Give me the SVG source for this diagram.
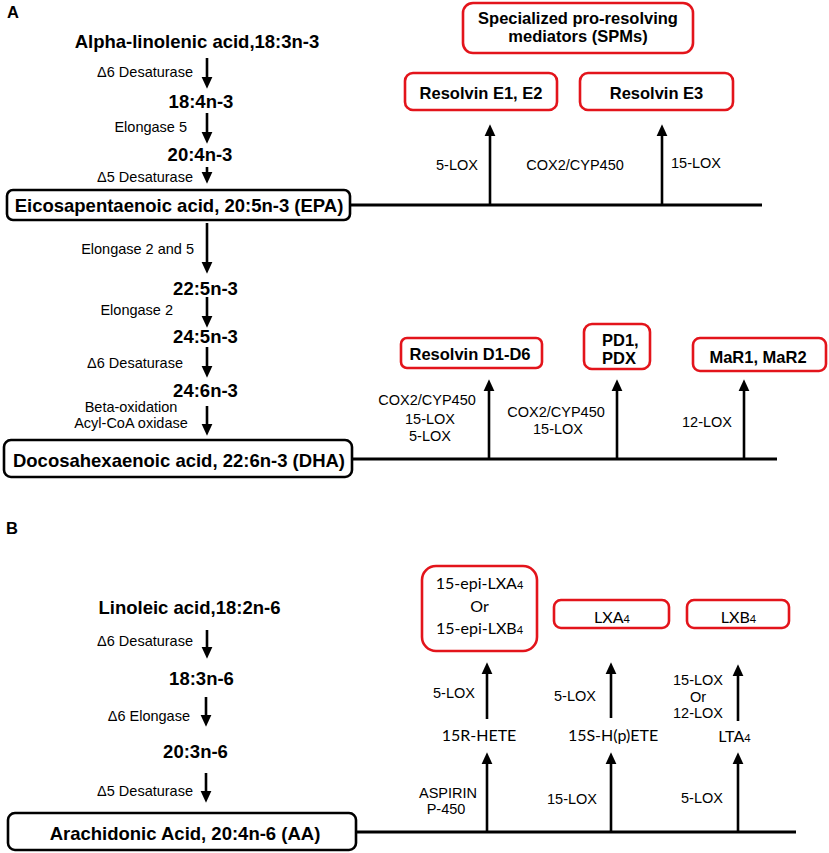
<svg xmlns="http://www.w3.org/2000/svg" width="829" height="853" viewBox="0 0 829 853">
<defs>
<style>
.big{font-family:"Liberation Sans",Arial,sans-serif;font-weight:bold;font-size:18.5px;fill:#000}
.hd{font-family:"Liberation Sans",Arial,sans-serif;font-weight:bold;font-size:16.5px;fill:#000}
.sm{font-family:"Liberation Sans",Arial,sans-serif;font-size:14.5px;fill:#000}
.lt{font-family:Lato,"Open Sans",sans-serif;font-size:16px;fill:#000}
.sub{font-size:11px}
.bbox{fill:#fff;stroke:#000;stroke-width:2.6}
.rbox{fill:#fff;stroke:#e3141b;stroke-width:2.6}
.ln{stroke:#000;stroke-width:3;fill:none}
.ar{stroke:#000;stroke-width:2.6;fill:none;marker-end:url(#ah)}
.m{text-anchor:middle}
.e{text-anchor:end}
</style>
<marker id="ah" markerUnits="userSpaceOnUse" markerWidth="12" markerHeight="12" viewBox="0 0 11 10" refX="2" refY="5" orient="auto">
<path d="M0,0 L11,5 L0,10 z" fill="#000"/>
</marker>
</defs>
<rect width="829" height="853" fill="#fff"/>

<text class="hd" x="7" y="18">A</text>
<text class="hd" x="6" y="534">B</text>

<g id="connectors">
<!-- panel A left chain -->
<line class="ar" x1="207" y1="58" x2="207" y2="79"/>
<line class="ar" x1="207" y1="113" x2="207" y2="134"/>
<line class="ar" x1="207" y1="167" x2="207" y2="174"/>
<line class="ar" x1="207" y1="223" x2="207" y2="264"/>
<line class="ar" x1="207" y1="297" x2="207" y2="318"/>
<line class="ar" x1="207" y1="347" x2="207" y2="368"/>
<line class="ar" x1="207" y1="406" x2="207" y2="426"/>
<!-- EPA line -->
<line class="ln" x1="350" y1="205" x2="762" y2="205"/>
<line class="ar" x1="490" y1="205" x2="490" y2="134"/>
<line class="ar" x1="662" y1="205" x2="662" y2="134"/>
<!-- DHA line -->
<line class="ln" x1="352" y1="459" x2="777" y2="459"/>
<line class="ar" x1="489" y1="459" x2="489" y2="389"/>
<line class="ar" x1="617" y1="459" x2="617" y2="389"/>
<line class="ar" x1="744" y1="459" x2="744" y2="389"/>
<!-- panel B left chain -->
<line class="ar" x1="207" y1="630" x2="207" y2="649"/>
<line class="ar" x1="206" y1="697" x2="206" y2="717"/>
<line class="ar" x1="206" y1="773" x2="206" y2="793"/>
<!-- AA line -->
<line class="ln" x1="356" y1="832" x2="796" y2="832"/>
<line class="ar" x1="487" y1="832" x2="487" y2="762"/>
<line class="ar" x1="611" y1="832" x2="611" y2="762"/>
<line class="ar" x1="738" y1="832" x2="738" y2="762"/>
<line class="ar" x1="487" y1="719" x2="487" y2="672"/>
<line class="ar" x1="611" y1="718" x2="611" y2="672"/>
<line class="ar" x1="738" y1="721" x2="738" y2="674"/>
</g>

<g id="labels">
<text class="sm e" x="193" y="77">Δ6 Desaturase</text>
<text class="sm e" x="187" y="132">Elongase 5</text>
<text class="sm e" x="193" y="182">Δ5 Desaturase</text>
<text class="sm m" x="457" y="170">5-LOX</text>
<text class="sm m" x="575" y="170">COX2/CYP450</text>
<text class="sm m" x="696" y="168">15-LOX</text>
<text class="sm e" x="194" y="254">Elongase 2 and 5</text>
<text class="sm e" x="173" y="315">Elongase 2</text>
<text class="sm e" x="183" y="368">Δ6 Desaturase</text>
<text class="sm m" x="131" y="412">Beta-oxidation</text>
<text class="sm m" x="131" y="428">Acyl-CoA oxidase</text>
<text class="sm m" x="427" y="405">COX2/CYP450</text>
<text class="sm m" x="430" y="424">15-LOX</text>
<text class="sm m" x="430" y="441">5-LOX</text>
<text class="sm m" x="556" y="417">COX2/CYP450</text>
<text class="sm m" x="558" y="434">15-LOX</text>
<text class="sm m" x="707" y="427">12-LOX</text>
<text class="sm e" x="193" y="646">Δ6 Desaturase</text>
<text class="sm e" x="190" y="721">Δ6 Elongase</text>
<text class="sm e" x="193" y="796">Δ5 Desaturase</text>
<text class="sm m" x="454" y="698">5-LOX</text>
<text class="sm m" x="575" y="701">5-LOX</text>
<text class="sm m" x="698" y="685">15-LOX</text>
<text class="sm m" x="698" y="702">Or</text>
<text class="sm m" x="698" y="718">12-LOX</text>
<text class="sm m" x="448" y="798">ASPIRIN</text>
<text class="sm m" x="446" y="814">P-450</text>
<text class="sm m" x="572" y="804">15-LOX</text>
<text class="sm m" x="702" y="803">5-LOX</text>
</g>

<g id="n-ala"><text class="big m" x="197" y="48">Alpha-linolenic acid,18:3n-3</text></g>
<g id="n-184"><text class="big m" x="201" y="108">18:4n-3</text></g>
<g id="n-204"><text class="big m" x="200" y="161">20:4n-3</text></g>
<g id="n-epa"><rect class="bbox" x="7" y="190" width="343" height="30" rx="6"/><text class="big m" x="179" y="211.5">Eicosapentaenoic acid, 20:5n-3 (EPA)</text></g>
<g id="n-spm"><rect class="rbox" x="463" y="3" width="230" height="50" rx="10"/><text class="hd m" x="578" y="23.5">Specialized pro-resolving</text><text class="hd m" x="578" y="42">mediators (SPMs)</text></g>
<g id="n-re12"><rect class="rbox" x="405" y="73" width="152" height="37" rx="8"/><text class="hd m" x="481" y="99">Resolvin E1, E2</text></g>
<g id="n-re3"><rect class="rbox" x="580" y="73" width="153" height="37" rx="8"/><text class="hd m" x="656.5" y="99">Resolvin E3</text></g>
<g id="n-225"><text class="big m" x="205.5" y="295">22:5n-3</text></g>
<g id="n-245"><text class="big m" x="205.5" y="343">24:5n-3</text></g>
<g id="n-246"><text class="big m" x="205.5" y="397">24:6n-3</text></g>
<g id="n-dha"><rect class="bbox" x="4" y="440" width="348" height="37" rx="7"/><text class="big m" x="179" y="466.5">Docosahexaenoic acid, 22:6n-3 (DHA)</text></g>
<g id="n-rd"><rect class="rbox" x="401" y="338" width="141" height="30" rx="6"/><text class="hd m" x="470" y="360">Resolvin D1-D6</text></g>
<g id="n-pd"><rect class="rbox" x="584" y="324" width="66" height="45" rx="8"/><text class="hd" x="602" y="346">PD1,</text><text class="hd" x="602" y="364">PDX</text></g>
<g id="n-mar"><rect class="rbox" x="693" y="338" width="133" height="33" rx="7"/><text class="hd m" x="758" y="363">MaR1, MaR2</text></g>

<g id="n-la"><text class="big m" x="189.5" y="614">Linoleic acid,18:2n-6</text></g>
<g id="n-183"><text class="big m" x="201.5" y="685">18:3n-6</text></g>
<g id="n-203"><text class="big m" x="195.5" y="758">20:3n-6</text></g>
<g id="n-aa"><rect class="bbox" x="8" y="813" width="348" height="37" rx="7"/><text class="big m" x="185" y="839.5">Arachidonic Acid, 20:4n-6 (AA)</text></g>
<g id="n-epi"><rect class="rbox" x="422" y="566" width="115" height="85" rx="14"/><text class="lt m" x="479.5" y="589">15-epi-LXA<tspan class="sub">4</tspan></text><text class="lt m" x="479.5" y="612">Or</text><text class="lt m" x="479.5" y="634">15-epi-LXB<tspan class="sub">4</tspan></text></g>
<g id="n-lxa"><rect class="rbox" x="554" y="600" width="115" height="28" rx="7"/><text class="lt m" x="612" y="623">LXA<tspan class="sub">4</tspan></text></g>
<g id="n-lxb"><rect class="rbox" x="687" y="600" width="102" height="28" rx="7"/><text class="lt m" x="738.5" y="623">LXB<tspan class="sub">4</tspan></text></g>
<g id="n-15r"><text class="lt m" x="479" y="741">15R-HETE</text></g>
<g id="n-15s"><text class="lt m" x="613" y="741">15S-H(p)ETE</text></g>
<g id="n-lta"><text class="lt m" x="734.5" y="742">LTA<tspan class="sub">4</tspan></text></g>
</svg>
